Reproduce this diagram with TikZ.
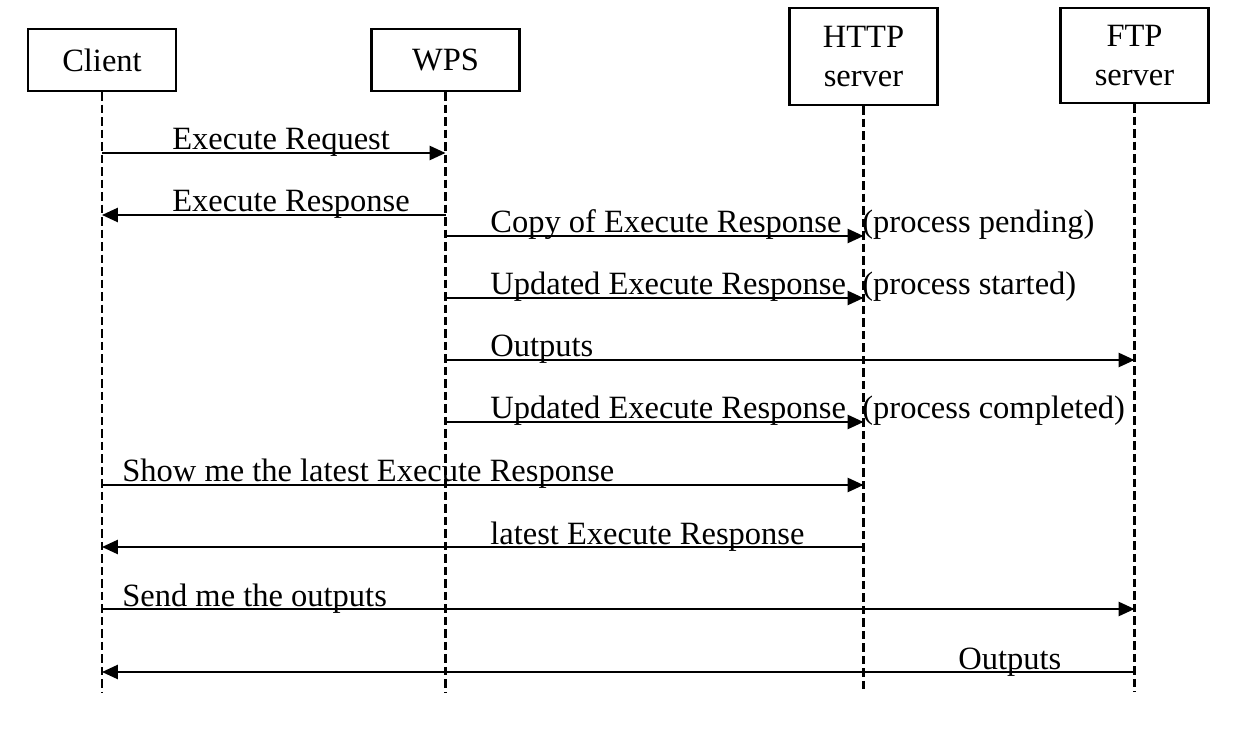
\documentclass[tikz,border=0pt]{standalone}
\usepackage{fontspec}
\setmainfont{Liberation Serif}
\usetikzlibrary{arrows.meta,positioning,calc}

\begin{document}
\begin{tikzpicture}[x=0.02cm,y=-0.02cm,
    actor/.style={draw,line width=1.2pt,align=center,inner sep=0pt,minimum width=2.96cm,
        font=\fontsize{18.5}{22}\selectfont},
    lifeline/.style={line width=1.3pt,dash pattern=on 0.17cm off 0.08cm},
    msg/.style={-{Triangle[length=9pt,width=8pt]},line width=1.2pt},
    lbl/.style={anchor=base west,inner sep=0pt,font=\fontsize{18.5}{22}\selectfont}]
    \useasboundingbox (0,0) rectangle (1250,732);

    % Actors
    \node[actor,minimum height=1.24cm] (client) at (102,60) {Client};
    \node[actor,minimum height=1.24cm] (wps) at (445.5,60) {WPS};
    \node[actor,minimum height=1.94cm] (http) at (863.5,56.5) {HTTP\\server};
    \node[actor,minimum height=1.9cm] (ftp) at (1134.5,55.5) {FTP\\server};

    % Lifelines
    \path (0,692) coordinate (bottom);
    \draw[lifeline] (client.south) -- (client.south |- bottom);
    \draw[lifeline] (wps.south) -- (wps.south |- bottom);
    \draw[lifeline] (http.south) -- (http.south |- bottom);
    \draw[lifeline] (ftp.south) -- (ftp.south |- bottom);

    % Message rows
    \path (0,153) coordinate (r1) (0,215) coordinate (r2) (0,236) coordinate (r3)
          (0,298) coordinate (r4) (0,360) coordinate (r5) (0,422) coordinate (r6)
          (0,485) coordinate (r7) (0,547) coordinate (r8) (0,609) coordinate (r9)
          (0,672) coordinate (r10);

    % Messages
    \draw[msg] (client |- r1) -- (wps |- r1);
    \draw[msg] (wps |- r2) -- (client |- r2);
    \draw[msg] (wps |- r3) -- (http |- r3);
    \draw[msg] (wps |- r4) -- (http |- r4);
    \draw[msg] (wps |- r5) -- (ftp |- r5);
    \draw[msg] (wps |- r6) -- (http |- r6);
    \draw[msg] (client |- r7) -- (http |- r7);
    \draw[msg] (http |- r8) -- (client |- r8);
    \draw[msg] (client |- r9) -- (ftp |- r9);
    \draw[msg] (ftp |- r10) -- (client |- r10);

    % Labels
    \node[lbl] (t1) at (172,150) {Execute Request};
    \node[lbl] (t2) at (172,212) {Execute Response};
    \node[lbl] (t3) at (490,233) {Copy of Execute Response};
    \node[lbl] (s3) at (862,233) {(process pending)};
    \node[lbl] (t4) at (490,295) {Updated Execute Response};
    \node[lbl] (s4) at (862,295) {(process started)};
    \node[lbl] (t5) at (490,357) {Outputs};
    \node[lbl] (t6) at (490,419) {Updated Execute Response};
    \node[lbl] (s6) at (862,419) {(process completed)};
    \node[lbl] (t7) at (122,482) {Show me the latest Execute Response};
    \node[lbl] (t8) at (490,544) {latest Execute Response};
    \node[lbl] (t9) at (122,606) {Send me the outputs};
    \node[lbl] (t10) at (958,669) {Outputs};
\end{tikzpicture}
\end{document}
